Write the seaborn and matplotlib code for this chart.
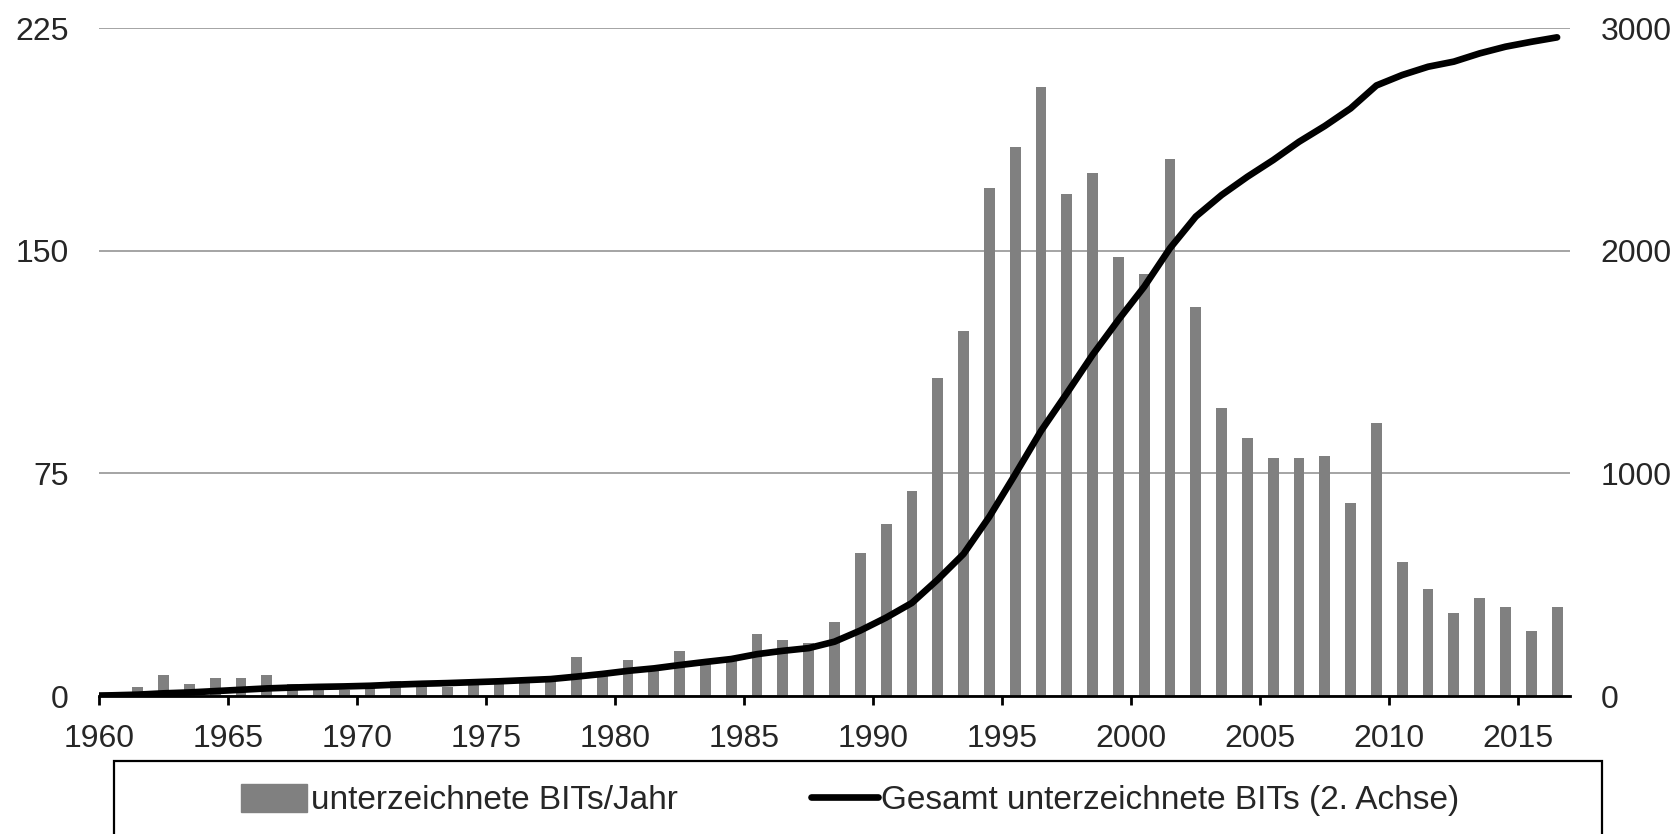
import matplotlib
matplotlib.use("Agg")
import matplotlib.pyplot as plt
import matplotlib.patches as mpatches
from matplotlib.lines import Line2D
import numpy as np
import pandas as pd
import seaborn as sns

# signed BITs per year (left axis)
years = list(range(1960, 2017))
bits_per_year = [1, 3, 7, 4, 6, 6, 7, 4, 3, 2,
                 3, 5, 4, 3, 4, 4, 5, 6, 13, 8,
                 12, 10, 15, 12, 13, 21, 19, 18, 25, 48,
                 58, 69, 107, 123, 171, 185, 205, 169, 176, 148,
                 142, 181, 131, 97, 87, 80, 80, 81, 65, 92,
                 45, 36, 28, 33, 30, 22, 30]

# total signed BITs (right axis)
total_years = list(range(1959, 2017))
bits_total = [1, 3, 6, 12, 16, 22, 28, 34, 38, 41, 43,
              46, 51, 55, 58, 62, 66, 71, 76, 87, 99,
              113, 124, 139, 153, 166, 188, 203, 215, 244, 294,
              352, 418, 523, 638, 805, 995, 1190, 1359, 1532, 1689,
              1838, 2011, 2153, 2250, 2332, 2407, 2489, 2560, 2639, 2742,
              2789, 2826, 2849, 2886, 2916, 2938, 2958]

left_ticks = [0, 75, 150, 225]
right_ticks = [0, 1000, 2000, 3000]
x_ticks = list(range(1960, 2016, 5))

bar_label = "unterzeichnete BITs/Jahr"
line_label = "Gesamt unterzeichnete BITs (2. Achse)"

sns.set_style("white")
plt.rcParams["font.family"] = ["Liberation Sans", "DejaVu Sans"]
fs = 23

bars = pd.DataFrame({"pos": np.array(years) + 0.5, "n": bits_per_year})
line = pd.DataFrame({"pos": np.array(total_years) + 0.5, "n": bits_total})

fig = plt.figure(figsize=(16.78, 8.34), dpi=100)
ax = fig.add_axes([99 / 1678, 1 - 696 / 834, (1570 - 99) / 1678, (696 - 28) / 834])

sns.barplot(data=bars, x="pos", y="n", native_scale=True, width=0.42,
            color="#808080", saturation=1, edgecolor="none", ax=ax)
ax.set_xlim(1960, 2017)
ax.set_ylim(0, 225)
ax.set_yticks(left_ticks)
ax.set_xticks(x_ticks)
ax.set_xticklabels([str(t) for t in x_ticks])
ax.yaxis.grid(True, color="#8c8c8c", lw=1.1)
ax.set_axisbelow(True)
ax.set_xlabel("")
ax.set_ylabel("")
for s in ["left", "right", "top"]:
    ax.spines[s].set_visible(False)
ax.spines["bottom"].set_color("black")
ax.spines["bottom"].set_linewidth(2)
ax.tick_params(axis="x", direction="out", length=6.5, width=2, color="black",
               labelsize=fs, pad=14, bottom=True)
ax.tick_params(axis="y", length=0, labelsize=fs, pad=22)

ax2 = ax.twinx()
sns.lineplot(data=line, x="pos", y="n", color="black", lw=4.8, ax=ax2,
             solid_capstyle="round", solid_joinstyle="round")
ax2.set_xlim(1960, 2017)
ax2.set_ylim(0, 3000)
ax2.set_yticks(right_ticks)
ax2.set_ylabel("")
ax2.set_xlabel("")
for s in ax2.spines.values():
    s.set_visible(False)
ax2.tick_params(axis="y", length=0, labelsize=fs, pad=22)

# legend box (runs off the bottom edge like the original)
fig.patches.append(mpatches.Rectangle((114 / 1678, -0.05), (1602 - 114) / 1678,
                                      0.05 + 1 - 761 / 834, transform=fig.transFigure,
                                      fill=False, edgecolor="black", lw=1.6))
handles = [mpatches.Patch(color="#808080", label=bar_label),
           Line2D([], [], color="black", lw=4.8, label=line_label)]
fig.legend(handles=handles, loc="center", bbox_to_anchor=(850 / 1678, 1 - 800 / 834),
           ncol=2, frameon=False, fontsize=24, handlelength=2.0, handleheight=0.9,
           handletextpad=0.1, columnspacing=4.0)

fig.savefig("out.png", dpi=100)
